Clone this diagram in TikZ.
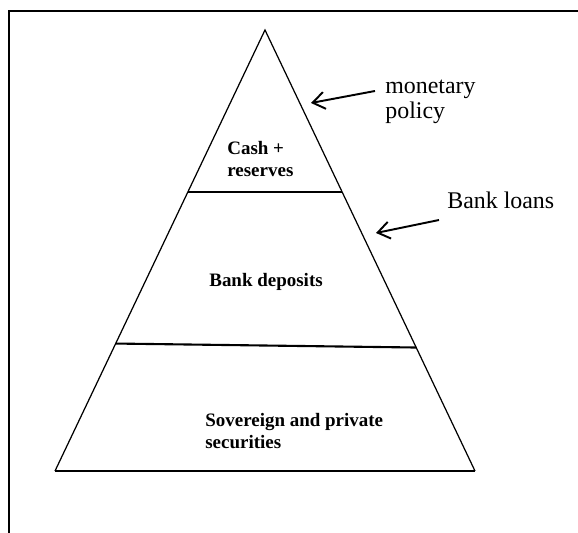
\documentclass[tikz,border=0pt]{standalone}
\usepackage{fontspec}
\setmainfont{Liberation Serif}
\usetikzlibrary{arrows.meta,calc}

\tikzset{
    level/.style={font=\fontsize{10.8}{12.5}\selectfont\bfseries,align=left,inner sep=0pt},
    remark/.style={font=\fontsize{13.6}{14.2}\selectfont,align=left,inner sep=0pt},
    pointer/.style={line width=1.1pt,-{Straight Barb[length=2.4mm,width=3.4mm]}},
    divider/.style={line width=1.2pt}
}

\begin{document}
\begin{tikzpicture}[x=0.02cm,y=-0.02cm]
    \useasboundingbox (0,0) rectangle (578,533);

    % Frame
    \draw [line width=1.2pt] (9,533) to (9,11) to (578,11);

    % Pyramid
    \coordinate (Apex) at (265,30);
    \coordinate (BaseL) at (55,471);
    \coordinate (BaseR) at (475,471);
    \draw [line width=0.7pt] (BaseL) -- (Apex) -- (BaseR);
    \draw [line width=1pt] (BaseL) to (BaseR);

    % Levels
    \draw [divider] ($(Apex)!0.368!(BaseL)$) to ($(Apex)!0.368!(BaseR)$);
    \draw [divider] ($(Apex)!0.711!(BaseL)$) to ($(Apex)!0.720!(BaseR)$);
    \node (Cash) at (227,141) [level,anchor=north west] {Cash +\\reserves};
    \node (Deposits) at (209,287) [level,anchor=base west] {Bank deposits};
    \node (Securities) at (205,413) [level,anchor=north west] {Sovereign and private\\securities};

    % Remarks with arrows
    \node (Policy) at (385,80) [remark,anchor=north west] {monetary\\policy};
    \node (Loans) at (447,209) [remark,anchor=base west] {Bank loans};
    \coordinate (PolicyTail) at (375,91);
    \coordinate (PolicyTip) at (311,103);
    \coordinate (LoansTail) at (439,220);
    \coordinate (LoansTip) at (376,233);
    \draw [pointer] (PolicyTail) to (PolicyTip);
    \draw [pointer] (LoansTail) to (LoansTip);
\end{tikzpicture}
\end{document}
